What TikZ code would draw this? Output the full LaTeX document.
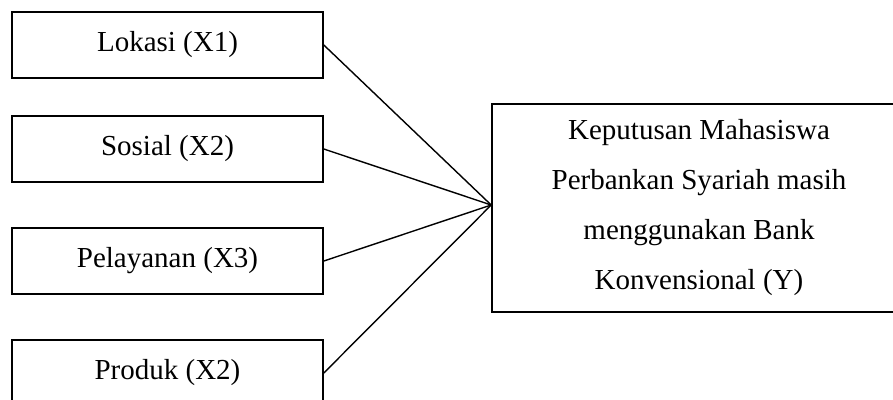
\documentclass[tikz,border=0pt]{standalone}
\usepackage{fontspec}
\setmainfont{Liberation Serif}

\begin{document}
\begin{tikzpicture}[x=1pt,y=-1pt,line width=1.6pt,
	varbox/.style={draw,minimum width=311pt,minimum height=66pt,inner sep=0pt,
		font=\fontsize{29}{50}\selectfont},
	link/.style={line width=1.4pt}]
	
	% Frame of the picture
	\useasboundingbox (0,0) rectangle (893,399);
	\clip (0,0) rectangle (893,399);
	
	%------------------------------
	% Independent variables X
	%------------------------------
	\node[varbox] (lokasi) at (167.5,45) {Lokasi (X1)};
	\node[varbox] (sosial) at (167.5,149) {Sosial (X2)};
	\node[varbox] (pelayanan) at (167.5,261) {Pelayanan (X3)};
	\node[varbox] (produk) at (167.5,373) {Produk (X2)};
	
	%------------------------------
	% Dependent variable Y
	%------------------------------
	\node[draw,minimum width=414pt,minimum height=208pt,inner sep=0pt,align=center,
	font=\fontsize{29}{50}\selectfont] (keputusan) at (699,208)
	{Keputusan Mahasiswa\\Perbankan Syariah masih\\menggunakan Bank\\Konvensional (Y)};
	
	% Meeting point on the left side of Y
	\coordinate (hub) at ([yshift=3pt]keputusan.west);
	
	% Lines X -> Y
	\foreach \v in {lokasi,sosial,pelayanan,produk}
	\draw[link] (\v.east) -- (hub);
	
\end{tikzpicture}
\end{document}
